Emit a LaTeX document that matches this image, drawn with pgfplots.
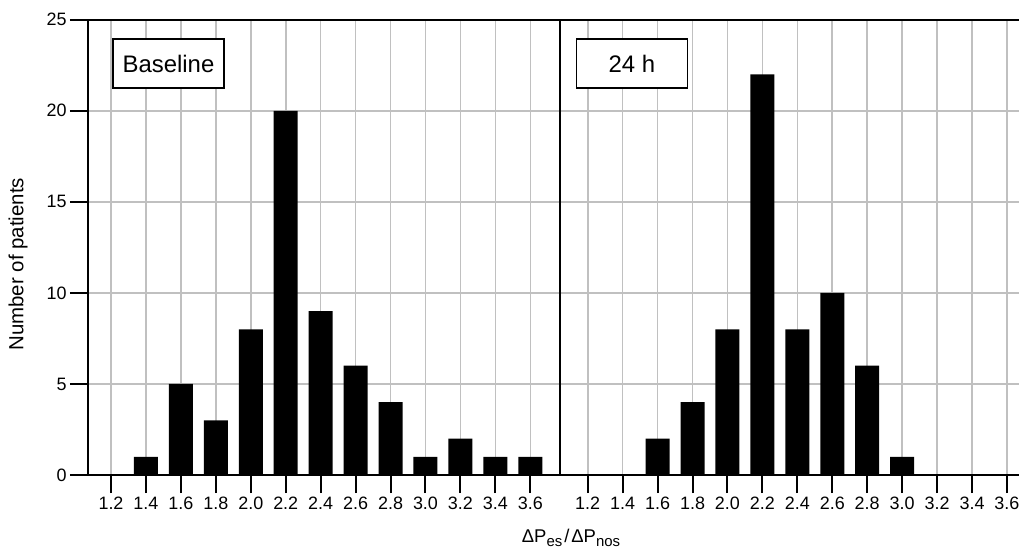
\documentclass[border=0pt]{standalone}
\usepackage{fontspec}
\setmainfont{Liberation Sans}
\usepackage{pgfplots}
\pgfplotsset{compat=1.18}
\definecolor{gridgray}{RGB}{192,192,192}
\pgfplotsset{
  common/.style={
    scale only axis, height=455.3bp, ymin=0, ymax=25,
    ytick={0,5,10,15,20,25},
    xtick={1.2,1.4,1.6,1.8,2.0,2.2,2.4,2.6,2.8,3.0,3.2,3.4,3.6},
    xticklabels={1.2,1.4,1.6,1.8,2.0,2.2,2.4,2.6,2.8,3.0,3.2,3.4,3.6},
    ymajorgrids, xmajorgrids,
    major grid style={gridgray, line width=1.6bp},
    tick align=outside, major tick length=18bp,
    tick style={black, line width=2bp},
    axis line style={line width=2bp, -},
    ticklabel style={font=\fontsize{18}{20}\selectfont},
    xticklabel style={text height=13bp, text depth=0bp},
    /pgf/number format/assume math mode=true,
    xtick pos=bottom, ytick pos=left,
    ybar, bar width=24bp,
  },
}
\tikzset{lbl/.style={draw=black, line width=1.5bp, fill=white, minimum width=111bp,
    minimum height=49bp, inner sep=0pt, font=\fontsize{24}{28}\selectfont}}
\newcommand{\sub}[1]{\raisebox{-4bp}{\fontsize{15}{15}\selectfont #1}}
\begin{document}
\begin{tikzpicture}
\useasboundingbox (0,0) rectangle (1019bp,553bp);
\begin{axis}[common, at={(88bp,78bp)}, anchor=south west, width=472bp,
  xmin=1.0683, xmax=3.770,
  ylabel={Number of patients},
  ylabel style={at={(axis description cs:-0.148,0.463)}, anchor=center, font=\fontsize{20.5}{23}\selectfont},
  xlabel={ΔP\sub{es}\kern2bp/\kern2bp ΔP\sub{nos}},
  xlabel style={at={(axis description cs:1.0233,-0.1472)}, anchor=base, font=\fontsize{18.5}{21}\selectfont},
]
\addplot[fill=black, draw=none] coordinates {
 (1.4,1) (1.6,5) (1.8,3) (2.0,8) (2.2,20) (2.4,9) (2.6,6) (2.8,4) (3.0,1) (3.2,2) (3.4,1) (3.6,1)};
\node[lbl] at (axis cs:1.529,22.595) {Baseline};
\end{axis}
\begin{axis}[common, at={(560bp,78bp)}, anchor=south west, width=459bp,
  xmin=1.0414, xmax=3.669,
  axis x line*=box, axis y line*=left,
  yticklabels={}, y tick style={draw=none},
]
\addplot[fill=black, draw=none] coordinates {
 (1.6,2) (1.8,4) (2.0,8) (2.2,22) (2.4,8) (2.6,10) (2.8,6) (3.0,1)};
\node[lbl] at (axis cs:1.453,22.595) {24 h};
\end{axis}
\end{tikzpicture}
\end{document}
